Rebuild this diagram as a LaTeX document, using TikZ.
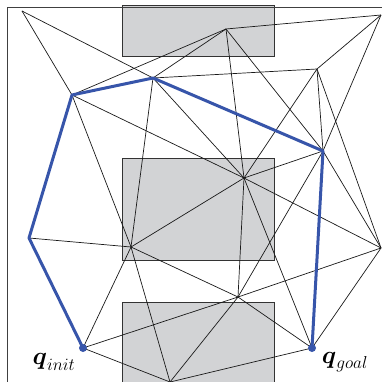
\documentclass[tikz,border=0pt]{standalone}
\usepackage{amsmath}
\definecolor{obstgray}{RGB}{210,211,213}
\definecolor{routeblue}{RGB}{55,85,170}
\begin{document}
\begin{tikzpicture}[x=1pt,y=-1pt,
  edge/.style={black!90, line width=0.7pt},
  obst/.style={fill=obstgray, draw=black!80, line width=0.9pt},
  route/.style={draw=routeblue, line width=3pt, line join=round},
  frameline/.style={black!75, line width=0.9pt},
  endpt/.style={circle, fill=routeblue, inner sep=0pt, minimum size=8pt},
  lab/.style={font=\fontsize{25}{30}\selectfont, inner sep=0pt}]
\useasboundingbox (0,0) rectangle (381,382);
% obstacles
\draw[obst] (122,5) rectangle (274,56);
\draw[obst] (122,158) rectangle (274,260);
\draw[obst] (122,302) rectangle (274,386);
% vertices
\coordinate (A) at (22,11);
\coordinate (B) at (72,95);
\coordinate (C) at (153,78);
\coordinate (D) at (226,29);
\coordinate (E) at (317,69);
\coordinate (F) at (381,15);
\coordinate (G) at (323,151);
\coordinate (H) at (244,178);
\coordinate (I) at (29,238);
\coordinate (J) at (131,247);
\coordinate (K) at (381,248);
\coordinate (L) at (238,297);
\coordinate (Qi) at (83,348);
\coordinate (Qg) at (312,348);
\coordinate (M) at (170,382);
% roadmap edges
\draw[edge] (A) -- (B);
\draw[edge] (A) -- (C);
\draw[edge] (B) -- (D);
\draw[edge] (B) -- (H);
\draw[edge] (B) -- (J);
\draw[edge] (C) -- (D);
\draw[edge] (C) -- (E);
\draw[edge] (C) -- (H);
\draw[edge] (C) -- (J);
\draw[edge] (D) -- (F);
\draw[edge] (D) -- (H);
\draw[edge] (D) -- (G);
\draw[edge] (E) -- (F);
\draw[edge] (E) -- (H);
\draw[edge] (E) -- (G);
\draw[edge] (E) -- (K);
\draw[edge] (F) -- (G);
\draw[edge] (G) -- (H);
\draw[edge] (G) -- (K);
\draw[edge] (G) -- (L);
\draw[edge] (H) -- (J);
\draw[edge] (H) -- (L);
\draw[edge] (H) -- (Qg);
\draw[edge] (H) -- (K);
\draw[edge] (I) -- (J);
\draw[edge] (J) -- (Qi);
\draw[edge] (J) -- (L);
\draw[edge] (J) -- (M);
\draw[edge] (K) -- (L);
\draw[edge] (K) -- (Qg);
\draw[edge] (L) -- (Qi);
\draw[edge] (L) -- (M);
\draw[edge] (L) -- (Qg);
\draw[edge] (M) -- (Qi);
\draw[edge] (M) -- (Qg);
% frame
\coordinate (fTL) at (7,7);
\coordinate (fTR) at (386,7);
\coordinate (fBL) at (7,386);
\draw[frameline] (fBL) -- (fTL) -- (fTR);
% path
\draw[route] (Qi) -- (I) -- (B) -- (C) -- (G) -- (Qg);
\node[endpt] (qi) at (Qi) {};
\node[endpt] (qg) at (Qg) {};
\node[lab] (li) at (54,362) {$\boldsymbol{q}_{init}$};
\node[lab] (lg) at (345,362) {$\boldsymbol{q}_{goal}$};
\end{tikzpicture}
\end{document}
